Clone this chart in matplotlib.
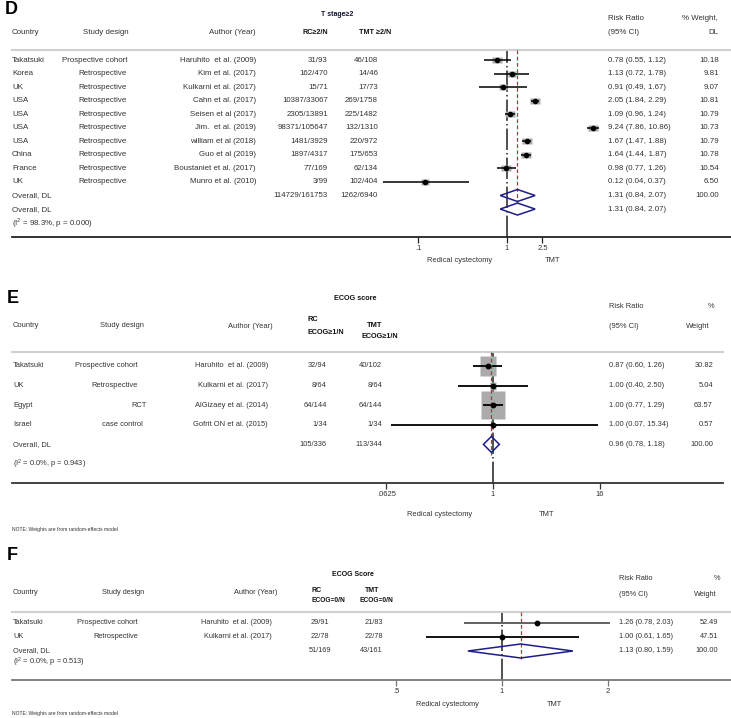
import numpy as np
import matplotlib
matplotlib.use('Agg')
import matplotlib.pyplot as plt
import matplotlib.transforms as mtransforms
from matplotlib.path import Path
from matplotlib.ticker import NullLocator

plt.rcParams['font.family'] = ['Liberation Sans', 'DejaVu Sans']
plt.rcParams['mathtext.fontset'] = 'custom'
plt.rcParams['mathtext.rm'] = 'Liberation Sans'

W, H = 731, 718
TXT = '#333333'
RED = '#b5323e'
NAVY = '#1c1c8a'
BOX = '#ababab'

# ---------------- panel D : T stage >= 2
d_country = ['Takatsuki', 'Korea', 'UK', 'USA', 'USA', 'USA', 'USA', 'China', 'France', 'UK']
d_design = ['Prospective cohort'] + ['Retrospective'] * 9
d_author = ['Haruhito  et al. (2009)', 'Kim et al. (2017)', 'Kulkarni et al. (2017)',
            'Cahn et al. (2017)', 'Seisen et al (2017)', 'Jim.  et al. (2019)',
            'william et al (2018)', 'Guo et al (2019)', 'Boustaniet et al. (2017)',
            'Munro et al. (2010)']
d_rc = ['31/93', '162/470', '15/71', '10387/33067', '2305/13891', '98371/105647',
        '1481/3929', '1897/4317', '77/169', '3/99']
d_tmt = ['46/108', '14/46', '17/73', '269/1758', '225/1482', '132/1310',
         '220/972', '175/653', '62/134', '102/404']
d_rr = [0.78, 1.13, 0.91, 2.05, 1.09, 9.24, 1.67, 1.64, 0.98, 0.12]
d_lo = [0.55, 0.72, 0.49, 1.84, 0.96, 7.86, 1.47, 1.44, 0.77, 0.04]
d_hi = [1.12, 1.78, 1.67, 2.29, 1.24, 10.86, 1.88, 1.87, 1.26, 0.37]
d_w = [10.18, 9.81, 9.07, 10.81, 10.79, 10.73, 10.79, 10.78, 10.54, 6.50]
d_total = ['114729/161753', '1262/6940']
d_all = [1.31, 0.84, 2.07]
d_i2 = '(I$^{2}$ = 98.3%, p = 0.000)'
d_ticks = [0.1, 1, 2.5]
d_ticklabels = ['.1', '1', '2.5']

# ---------------- panel E : ECOG >= 1
e_country = ['Takatsuki', 'UK', 'Egypt', 'Israel']
e_design = ['Prospective cohort', 'Retrospective', 'RCT', 'case control']
e_author = ['Haruhito  et al. (2009)', 'Kulkarni et al. (2017)',
            'AlGizaey et al. (2014)', 'Gofrit ON et al. (2015)']
e_rc = ['32/94', '8/64', '64/144', '1/34']
e_tmt = ['40/102', '8/64', '64/144', '1/34']
e_rr = [0.87, 1.00, 1.00, 1.00]
e_lo = [0.60, 0.40, 0.77, 0.07]
e_hi = [1.26, 2.50, 1.29, 15.34]
e_w = [30.82, 5.04, 63.57, 0.57]
e_total = ['105/336', '113/344']
e_all = [0.96, 0.78, 1.18]
e_i2 = '(I$^{2}$ = 0.0%, p = 0.943)'
e_ticks = [0.0625, 1, 16]
e_ticklabels = ['.0625', '1', '16']

# ---------------- panel F : ECOG = 0
f_country = ['Takatsuki', 'UK']
f_design = ['Prospective cohort', 'Retrospective']
f_author = ['Haruhito  et al. (2009)', 'Kulkarni et al. (2017)']
f_rc = ['29/91', '22/78']
f_tmt = ['21/83', '22/78']
f_rr = [1.26, 1.00]
f_lo = [0.78, 0.61]
f_hi = [2.03, 1.65]
f_w = [52.49, 47.51]
f_total = ['51/169', '43/161']
f_all = [1.13, 0.80, 1.59]
f_i2 = '(I$^{2}$ = 0.0%, p = 0.513)'
f_ticks = [0.5, 1, 2]
f_ticklabels = ['.5', '1', '2']

note = 'NOTE: Weights are from random-effects model'

fig = plt.figure(figsize=(W / 100, H / 100), dpi=100)
xpix = mtransforms.Affine2D().scale(1.0 / W, 1.0) + fig.transFigure


def put(x, y, s, ax=None, **kw):
    kw.setdefault('color', TXT)
    kw.setdefault('va', 'center')
    if ax is None:
        fig.text(x / W, 1 - y / H, s, **kw)
    else:
        tr = mtransforms.blended_transform_factory(xpix, ax.transData)
        ax.text(x, y, s, transform=tr, clip_on=False, **kw)


def box_marker(aspect):
    a, b = aspect / 2.0, 0.5
    m = max(a, b)
    v = [(-a / m, -b / m), (a / m, -b / m), (a / m, b / m), (-a / m, b / m), (-a / m, -b / m)]
    return Path(v, [Path.MOVETO] + [Path.LINETO] * 3 + [Path.CLOSEPOLY])


def make_axes(x0, x1, yt, yb, x_one, dec, ticks, labels, spine_col):
    ax = fig.add_axes([x0 / W, 1 - yb / H, (x1 - x0) / W, (yb - yt) / H])
    ax.set_xscale('log')
    ax.set_xlim(10 ** ((x0 - x_one) / dec), 10 ** ((x1 - x_one) / dec))
    ax.set_ylim(yb, yt)
    ax.patch.set_alpha(0)
    for s in ['top', 'left', 'right']:
        ax.spines[s].set_visible(False)
    ax.spines['bottom'].set_color(spine_col)
    ax.spines['bottom'].set_linewidth(1.3)
    ax.set_xticks(ticks)
    ax.set_xticklabels(labels)
    ax.xaxis.set_minor_locator(NullLocator())
    ax.tick_params(axis='x', length=4, width=0.9, color=spine_col, pad=2,
                   labelsize=5.5, labelcolor=TXT)
    ax.set_yticks([])
    ax.axhline(yt, color='#d0d0d0', lw=1.5, clip_on=False)
    ax.axvline(1, color='#222222', lw=1.1, ls=(0, (14, 2, 1, 2)), zorder=1)
    return ax


def forest(ax, ys, rr, lo, hi, w, box_px, aspect, ci_cols, ci_lw, ms):
    mk = box_marker(aspect)
    for y, r, l, h, wt, c in zip(ys, rr, lo, hi, w, ci_cols):
        hgt = box_px * np.sqrt(wt)
        size = max(hgt, hgt * aspect) * 72 / 100.0
        ax.plot([r], [y], marker=mk, ms=size, color=BOX, mec='none', ls='none', zorder=2)
        ax.plot([l, h], [y, y], color=c, lw=ci_lw, solid_capstyle='butt', zorder=3)
        ax.plot([r], [y], 'o', ms=ms, color='black', zorder=4)


def diamond(ax, y, est, l, h, hh):
    ax.fill([l, est, h, est, l], [y, y - hh, y, y + hh, y], fill=False,
            edgecolor=NAVY, lw=1.1, zorder=5)


# =============== D ===============
fs = 5.7
put(5, 10, 'D', fontsize=13, fontweight='bold', color='black')
put(337, 15, 'T stage\u22652', fontsize=5, fontweight='bold', ha='center', color='#111133')
put(12, 33, 'Country', fontsize=fs)
put(129, 33, 'Study design', fontsize=fs, ha='right')
put(256, 33, 'Author (Year)', fontsize=fs, ha='right')
put(328, 33, 'RC\u22652/N', fontsize=5.2, ha='right', fontweight='bold', color='#111111')
put(359, 33, 'TMT \u22652/N', fontsize=5.2, ha='left', fontweight='bold', color='#111111')
put(608, 19, 'Risk Ratio', fontsize=fs)
put(608, 33, '(95% CI)', fontsize=fs)
put(718, 19, '% Weight,', fontsize=fs, ha='right')
put(718, 33, 'DL', fontsize=fs, ha='right')

axd = make_axes(12, 731, 50, 237, 507, 89.0, d_ticks, d_ticklabels, '#222222')
yd = 60 + 13.55 * np.arange(len(d_rr))
forest(axd, yd, d_rr, d_lo, d_hi, d_w, 2.1, 1.35, ['black'] * len(d_rr), 1.1, 3.0)
for i in range(len(d_rr)):
    put(12, yd[i], d_country[i], axd, fontsize=fs)
    put(127, yd[i], d_design[i], axd, fontsize=fs, ha='right')
    put(256, yd[i], d_author[i], axd, fontsize=fs, ha='right')
    put(328, yd[i], d_rc[i], axd, fontsize=fs, ha='right')
    put(378, yd[i], d_tmt[i], axd, fontsize=fs, ha='right')
    put(608, yd[i], '%.2f (%.2f, %.2f)' % (d_rr[i], d_lo[i], d_hi[i]), axd, fontsize=fs)
    put(719, yd[i], '%.2f' % d_w[i], axd, fontsize=fs, ha='right')
yo = [yd[-1] + 13.55, yd[-1] + 27.1]
for k, y in enumerate(yo):
    diamond(axd, y, d_all[0], d_all[1], d_all[2], 6)
    put(12, y, 'Overall, DL', axd, fontsize=fs)
    put(608, y, '%.2f (%.2f, %.2f)' % tuple(d_all), axd, fontsize=fs)
put(328, yo[0], d_total[0], axd, fontsize=fs, ha='right')
put(378, yo[0], d_total[1], axd, fontsize=fs, ha='right')
put(719, yo[0], '%.2f' % sum(d_w), axd, fontsize=fs, ha='right')
put(12, yo[1] + 13.6, d_i2, axd, fontsize=fs)
axd.plot([d_all[0]] * 2, [50, yo[1] - 6], color=RED, lw=0.9, ls=(0, (3, 2)), zorder=3)
put(460, 260, 'Redical cystectomy', fontsize=5.4, ha='center')
put(553, 260, 'TMT', fontsize=5.4, ha='center')

# =============== E ===============
fs = 5.4
put(7, 299, 'E', fontsize=13, fontweight='bold', color='black')
put(355, 299, 'ECOG score', fontsize=5.2, fontweight='bold', ha='center', color='#111111')
put(13, 325, 'Country', fontsize=fs)
put(100, 325, 'Study design', fontsize=fs)
put(273, 326, 'Author (Year)', fontsize=fs, ha='right')
put(307, 320, 'RC', fontsize=5.4, fontweight='bold', color='#111111')
put(307, 333, 'ECOG\u22651/N', fontsize=5.2, fontweight='bold', color='#111111')
put(375, 325, 'TMT', fontsize=5.4, fontweight='bold', ha='center', color='#111111')
put(362, 337, 'ECOG\u22651/N', fontsize=5.2, fontweight='bold', color='#111111')
put(609, 307, 'Risk Ratio', fontsize=fs)
put(609, 327, '(95% CI)', fontsize=fs)
put(714, 307, '%', fontsize=fs, ha='right')
put(709, 327, 'Weight', fontsize=fs, ha='right')

axe = make_axes(12, 723, 352, 483, 493, 88.6, e_ticks, e_ticklabels, '#333333')
ye = 366 + 19.6 * np.arange(len(e_rr))
forest(axe, ye, e_rr, e_lo, e_hi, e_w, 3.6, 0.85, ['black'] * len(e_rr), 1.3, 3.2)
e_design_x = [138, 138, 147, 143]
for i in range(len(e_rr)):
    put(13, ye[i], e_country[i], axe, fontsize=fs)
    put(e_design_x[i], ye[i], e_design[i], axe, fontsize=fs, ha='right')
    put(268, ye[i], e_author[i], axe, fontsize=fs, ha='right')
    put(327, ye[i], e_rc[i], axe, fontsize=fs, ha='right')
    put(382, ye[i], e_tmt[i], axe, fontsize=fs, ha='right')
    put(609, ye[i], '%.2f (%.2f, %.2f)' % (e_rr[i], e_lo[i], e_hi[i]), axe, fontsize=fs)
    put(713, ye[i], '%.2f' % e_w[i], axe, fontsize=fs, ha='right')
yo = ye[-1] + 19.6
diamond(axe, yo, e_all[0], e_all[1], e_all[2], 8)
put(13, yo, 'Overall, DL', axe, fontsize=fs)
put(327, yo, e_total[0], axe, fontsize=fs, ha='right')
put(382, yo, e_total[1], axe, fontsize=fs, ha='right')
put(609, yo, '%.2f (%.2f, %.2f)' % tuple(e_all), axe, fontsize=fs)
put(713, yo, '%.2f' % sum(e_w), axe, fontsize=fs, ha='right')
put(13, yo + 20, e_i2, axe, fontsize=fs)
axe.plot([e_all[0]] * 2, [352, yo + 11], color=RED, lw=0.9, ls=(0, (3, 2)), zorder=3)
put(440, 514, 'Redical cystectomy', fontsize=5.4, ha='center')
put(547, 514, 'TMT', fontsize=5.4, ha='center')
put(12, 529, note, fontsize=3.6)

# =============== F ===============
fs = 5.3
put(7, 556, 'F', fontsize=13, fontweight='bold', color='black')
put(353, 575, 'ECOG Score', fontsize=5, fontweight='bold', ha='center', color='#111111')
put(13, 593, 'Country', fontsize=fs)
put(102, 593, 'Study design', fontsize=fs)
put(277, 593, 'Author (Year)', fontsize=fs, ha='right')
put(312, 591, 'RC', fontsize=5, fontweight='bold', color='#111111')
put(312, 601, 'ECOG=0/N', fontsize=4.8, fontweight='bold', color='#111111')
put(372, 590, 'TMT', fontsize=5, fontweight='bold', ha='center', color='#111111')
put(360, 600, 'ECOG=0/N', fontsize=4.8, fontweight='bold', color='#111111')
put(619, 579, 'Risk Ratio', fontsize=fs)
put(619, 594, '(95% CI)', fontsize=fs)
put(720, 579, '%', fontsize=fs, ha='right')
put(717, 594, 'Weight', fontsize=fs, ha='right')

axf = make_axes(12, 731, 612, 680, 502, 352.0, f_ticks, f_ticklabels, '#777777')
yf = 623 + 14 * np.arange(len(f_rr))
forest(axf, yf, f_rr, f_lo, f_hi, f_w, 0.6, 1.0, ['#555555', 'black'], 1.3, 3.2)
for i in range(len(f_rr)):
    put(13, yf[i], f_country[i], axf, fontsize=fs)
    put(138, yf[i], f_design[i], axf, fontsize=fs, ha='right')
    put(272, yf[i], f_author[i], axf, fontsize=fs, ha='right')
    put(320, yf[i], f_rc[i], axf, fontsize=fs, ha='center')
    put(383, yf[i], f_tmt[i], axf, fontsize=fs, ha='right')
    put(619, yf[i], '%.2f (%.2f, %.2f)' % (f_rr[i], f_lo[i], f_hi[i]), axf, fontsize=fs)
    put(718, yf[i], '%.2f' % f_w[i], axf, fontsize=fs, ha='right')
yo = yf[-1] + 14
diamond(axf, yo, f_all[0], f_all[1], f_all[2], 7)
put(13, yo, 'Overall, DL', axf, fontsize=fs)
put(320, yo, f_total[0], axf, fontsize=fs, ha='center')
put(383, yo, f_total[1], axf, fontsize=fs, ha='right')
put(619, yo, '%.2f (%.2f, %.2f)' % tuple(f_all), axf, fontsize=fs)
put(718, yo, '%.2f' % sum(f_w), axf, fontsize=fs, ha='right')
put(13, yo + 11, f_i2, axf, fontsize=fs)
axf.plot([f_all[0]] * 2, [612, yo + 8], color=RED, lw=0.9, ls=(0, (3, 2)), zorder=3)
put(447, 704, 'Redical cystectomy', fontsize=5.3, ha='center')
put(554, 704, 'TMT', fontsize=5.3, ha='center')
put(12, 713, note, fontsize=3.6)

fig.savefig('out.png', dpi=100)
